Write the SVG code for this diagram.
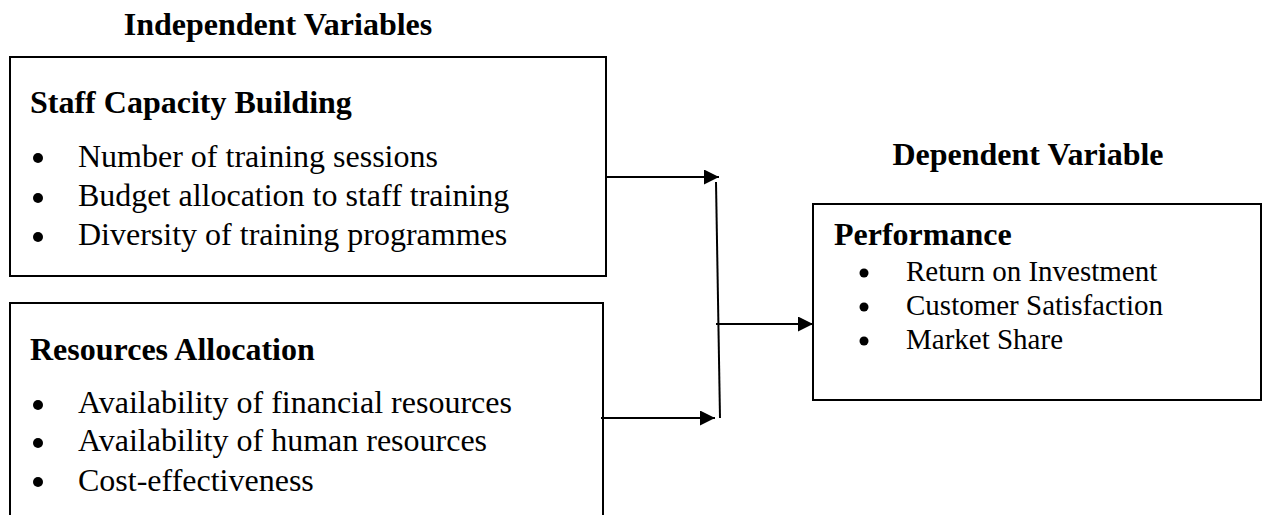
<svg xmlns="http://www.w3.org/2000/svg" width="1263" height="515" viewBox="0 0 1263 515">
<style>
.box{fill:#fff;stroke:#000;stroke-width:2}
.conn{fill:none;stroke:#000;stroke-width:2}
.h{font-family:"Liberation Serif","Times New Roman",serif;font-weight:bold;font-size:32px;fill:#000}
.t{font-family:"Liberation Serif","Times New Roman",serif;font-size:32px;fill:#000}
.t3{font-family:"Liberation Serif","Times New Roman",serif;font-size:29px;fill:#000}
.b{fill:#000}
</style>
<defs>
<marker id="arr" markerWidth="16" markerHeight="16" refX="15" refY="7.5" orient="auto" markerUnits="userSpaceOnUse">
<path d="M0,0 L15,7.5 L0,15 Z" fill="#000"/>
</marker>
</defs>
<rect width="1263" height="515" fill="#fff"/>
<text class="h" x="278" y="35" text-anchor="middle">Independent Variables</text>
<text class="h" x="1028" y="165" text-anchor="middle">Dependent Variable</text>
<g id="node-staff">
<rect class="box" x="10" y="57" width="596" height="219"/>
<text class="h" x="30" y="113">Staff Capacity Building</text>
<circle class="b" cx="38" cy="158" r="5"/>
<text class="t" x="78" y="167">Number of training sessions</text>
<circle class="b" cx="38" cy="198" r="5"/>
<text class="t" x="78" y="206">Budget allocation to staff training</text>
<circle class="b" cx="38" cy="237" r="5"/>
<text class="t" x="78" y="245">Diversity of training programmes</text>
</g>
<g id="node-resources">
<path class="box" d="M10,516 L10,303 L603,303 L603,516"/>
<text class="h" x="30" y="360">Resources Allocation</text>
<circle class="b" cx="38" cy="405" r="5"/>
<text class="t" x="78" y="413">Availability of financial resources</text>
<circle class="b" cx="38" cy="443" r="5"/>
<text class="t" x="78" y="451">Availability of human resources</text>
<circle class="b" cx="38" cy="482" r="5"/>
<text class="t" x="78" y="491">Cost-effectiveness</text>
</g>
<g id="node-performance">
<rect class="box" x="813" y="204" width="448" height="196"/>
<text class="h" x="834" y="245">Performance</text>
<circle class="b" cx="864" cy="273" r="4.5"/>
<text class="t3" x="906" y="281">Return on Investment</text>
<circle class="b" cx="864" cy="307" r="4.5"/>
<text class="t3" x="906" y="315">Customer Satisfaction</text>
<circle class="b" cx="864" cy="341" r="4.5"/>
<text class="t3" x="906" y="349">Market Share</text>
</g>
<g id="connectors">
<line class="conn" x1="606" y1="177" x2="719" y2="177" marker-end="url(#arr)"/>
<line class="conn" x1="601" y1="418" x2="715" y2="418" marker-end="url(#arr)"/>
<line class="conn" x1="716" y1="182" x2="720" y2="418"/>
<line class="conn" x1="716" y1="324" x2="813" y2="324" marker-end="url(#arr)"/>
</g>
</svg>
